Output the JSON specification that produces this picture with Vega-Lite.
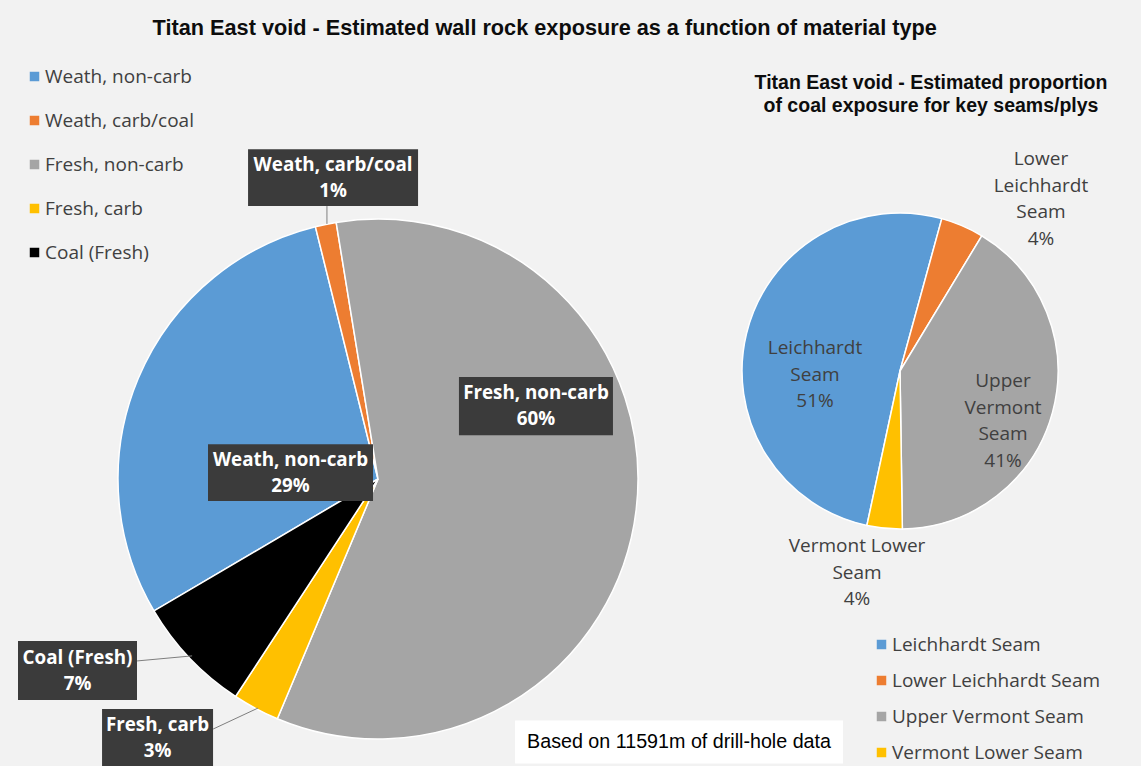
{
  "$schema": "https://vega.github.io/schema/vega-lite/v6.json",
  "background": "#f2f2f2",
  "padding": {"left": 18, "top": 18, "right": 60, "bottom": 20},
  "title": {
    "text": "Titan East void - Estimated wall rock exposure as a function of material type",
    "anchor": "middle", "offset": 27, "dx": -18,
    "font": "Liberation Sans", "fontSize": 21.7, "fontWeight": "bold", "color": "#0d0d0d"
  },
  "bounds": "flush",
  "spacing": 5,
  "resolve": {
    "scale": {"color": "independent", "theta": "independent", "x": "independent", "y": "independent"},
    "legend": {"color": "independent"}
  },
  "config": {"view": {"stroke": null}},
  "hconcat": [
    {
      "width": 718,
      "height": 532,
      "data": {"values": [
        {"name": "Weath, non-carb", "value": 29.6, "label": "Weath, non-carb\n29%"},
        {"name": "Weath, carb/coal", "value": 1.3, "label": "Weath, carb/coal\n1%"},
        {"name": "Fresh, non-carb", "value": 58.9, "label": "Fresh, non-carb\n60%"},
        {"name": "Fresh, carb", "value": 2.9, "label": "Fresh, carb\n3%"},
        {"name": "Coal (Fresh)", "value": 7.3, "label": "Coal (Fresh)\n7%"}
      ]},
      "layer": [
        {
          "transform": [{"window": [{"op": "row_number", "as": "k"}]}],
          "mark": {"type": "arc", "radius": 260, "stroke": "#ffffff", "strokeWidth": 1.5},
          "encoding": {
            "x": {"datum": 0, "type": "quantitative", "scale": {"domain": [-1.35, 1.35], "nice": false, "zero": false}, "axis": null},
            "y": {"datum": 0, "type": "quantitative", "scale": {"domain": [-1, 1], "nice": false, "zero": false}, "axis": null},
            "theta": {"field": "value", "type": "quantitative", "stack": true, "scale": {"range": [4.1801, 10.4633]}},
            "order": {"field": "k", "type": "quantitative"},
            "color": {
              "field": "name", "type": "nominal",
              "scale": {"domain": ["Weath, non-carb", "Weath, carb/coal", "Fresh, non-carb", "Fresh, carb", "Coal (Fresh)"],
                        "range": ["#5b9bd5", "#ed7d31", "#a5a5a5", "#ffc000", "#000000"]},
              "legend": {"orient": "none", "legendX": 6, "legendY": -146, "title": null, "symbolType": "square", "symbolSize": 90,
                         "symbolStrokeWidth": 0, "labelFont": "Open Sans", "labelFontSize": 19, "labelColor": "#404040",
                         "rowPadding": 24, "labelOffset": 1, "labelLimit": 400, "padding": 0}
            }
          }
        },
        {
          "transform": [{"filter": {"field": "name", "equal": "Weath, carb/coal"}}],
          "encoding": {"x": {"datum": -0.169, "type": "quantitative"}, "y": {"datum": 1.133, "type": "quantitative"}},
          "layer": [
            {"mark": {"type": "rule", "color": "#7f7f7f", "strokeWidth": 1},
             "encoding": {"x": {"datum": -0.192, "type": "quantitative"}, "y": {"datum": 1.026, "type": "quantitative"}, "x2": {"datum": -0.192}, "y2": {"datum": 0.959}}},
            {"mark": {"type": "point", "shape": "M-1,-0.335H1V0.335H-1Z", "size": 28900, "filled": true, "color": "#3b3b3b", "opacity": 1, "strokeWidth": 0}},
            {"mark": {"type": "text", "lineBreak": "\n", "font": "Open Sans", "fontWeight": "bold", "fontSize": 18.8, "color": "#ffffff", "lineHeight": 26, "dy": -13},
             "encoding": {"text": {"field": "label"}}}
          ]
        },
        {
          "transform": [{"filter": {"field": "name", "equal": "Fresh, non-carb"}}],
          "encoding": {"x": {"datum": 0.594, "type": "quantitative"}, "y": {"datum": 0.274, "type": "quantitative"}},
          "layer": [
            {"mark": {"type": "point", "shape": "M-1,-0.377H1V0.377H-1Z", "size": 23716, "filled": true, "color": "#3b3b3b", "opacity": 1, "strokeWidth": 0}},
            {"mark": {"type": "text", "lineBreak": "\n", "font": "Open Sans", "fontWeight": "bold", "fontSize": 18.8, "color": "#ffffff", "lineHeight": 26, "dy": -13},
             "encoding": {"text": {"field": "label"}}}
          ]
        },
        {
          "transform": [{"filter": {"field": "name", "equal": "Weath, non-carb"}}],
          "encoding": {"x": {"datum": -0.329, "type": "quantitative"}, "y": {"datum": 0.024, "type": "quantitative"}},
          "layer": [
            {"mark": {"type": "point", "shape": "M-1,-0.345H1V0.345H-1Z", "size": 27225, "filled": true, "color": "#3b3b3b", "opacity": 1, "strokeWidth": 0}},
            {"mark": {"type": "text", "lineBreak": "\n", "font": "Open Sans", "fontWeight": "bold", "fontSize": 18.8, "color": "#ffffff", "lineHeight": 26, "dy": -13},
             "encoding": {"text": {"field": "label"}}}
          ]
        },
        {
          "transform": [{"filter": {"field": "name", "equal": "Coal (Fresh)"}}],
          "encoding": {"x": {"datum": -1.13, "type": "quantitative"}, "y": {"datum": -0.72, "type": "quantitative"}},
          "layer": [
            {"mark": {"type": "rule", "color": "#7f7f7f", "strokeWidth": 1},
             "encoding": {"x": {"datum": -0.906, "type": "quantitative"}, "y": {"datum": -0.684, "type": "quantitative"}, "x2": {"datum": -0.699}, "y2": {"datum": -0.665}}},
            {"mark": {"type": "point", "shape": "M-1,-0.496H1V0.496H-1Z", "size": 14161, "filled": true, "color": "#3b3b3b", "opacity": 1, "strokeWidth": 0}},
            {"mark": {"type": "text", "lineBreak": "\n", "font": "Open Sans", "fontWeight": "bold", "fontSize": 18.8, "color": "#ffffff", "lineHeight": 26, "dy": -13},
             "encoding": {"text": {"field": "label"}}}
          ]
        },
        {
          "transform": [{"filter": {"field": "name", "equal": "Fresh, carb"}}],
          "encoding": {"x": {"datum": -0.829, "type": "quantitative"}, "y": {"datum": -0.974, "type": "quantitative"}},
          "layer": [
            {"mark": {"type": "rule", "color": "#7f7f7f", "strokeWidth": 1},
             "encoding": {"x": {"datum": -0.62, "type": "quantitative"}, "y": {"datum": -0.94, "type": "quantitative"}, "x2": {"datum": -0.451}, "y2": {"datum": -0.861}}},
            {"mark": {"type": "point", "shape": "M-1,-0.523H1V0.523H-1Z", "size": 12321, "filled": true, "color": "#3b3b3b", "opacity": 1, "strokeWidth": 0}},
            {"mark": {"type": "text", "lineBreak": "\n", "font": "Open Sans", "fontWeight": "bold", "fontSize": 18.8, "color": "#ffffff", "lineHeight": 26, "dy": -13},
             "encoding": {"text": {"field": "label"}}}
          ]
        },
        {
          "data": {"values": [{"note": "Based on 11591m of drill-hole data"}]},
          "encoding": {"x": {"datum": 1.132, "type": "quantitative"}, "y": {"datum": -0.989, "type": "quantitative"}},
          "layer": [
            {"mark": {"type": "point", "shape": "M-1,-0.131H1V0.131H-1Z", "size": 107584, "filled": true, "color": "#ffffff", "opacity": 1, "strokeWidth": 0}},
            {"mark": {"type": "text", "font": "Liberation Sans", "fontSize": 19.7, "color": "#000000"},
             "encoding": {"text": {"field": "note"}}}
          ]
        }
      ]
    },
    {
      "width": 316,
      "height": 316,
      "title": {
        "text": ["Titan East void - Estimated proportion", "of coal exposure for key seams/plys"],
        "anchor": "middle", "offset": 34, "dx": 31,
        "font": "Liberation Sans", "fontSize": 19.5, "fontWeight": "bold", "color": "#0d0d0d", "lineHeight": 23
      },
      "data": {"values": [
        {"name": "Leichhardt Seam", "value": 50.9, "label": "Leichhardt\nSeam\n51%"},
        {"name": "Lower Leichhardt Seam", "value": 4.4, "label": "Lower\nLeichhardt\nSeam\n4%"},
        {"name": "Upper Vermont Seam", "value": 41.1, "label": "Upper\nVermont\nSeam\n41%"},
        {"name": "Vermont Lower Seam", "value": 3.6, "label": "Vermont Lower\nSeam\n4%"}
      ]},
      "layer": [
        {
          "transform": [{"window": [{"op": "row_number", "as": "k"}]}],
          "mark": {"type": "arc", "radius": 158, "stroke": "#ffffff", "strokeWidth": 1.5},
          "encoding": {
            "x": {"datum": 0, "type": "quantitative", "scale": {"domain": [-1, 1], "nice": false, "zero": false}, "axis": null},
            "y": {"datum": 0, "type": "quantitative", "scale": {"domain": [-1, 1], "nice": false, "zero": false}, "axis": null},
            "theta": {"field": "value", "type": "quantitative", "stack": true, "scale": {"range": [3.3528, 9.636]}},
            "order": {"field": "k", "type": "quantitative"},
            "color": {
              "field": "name", "type": "nominal",
              "scale": {"domain": ["Leichhardt Seam", "Lower Leichhardt Seam", "Upper Vermont Seam", "Vermont Lower Seam"],
                        "range": ["#5b9bd5", "#ed7d31", "#a5a5a5", "#ffc000"]},
              "legend": {"orient": "none", "legendX": 130, "legendY": 422, "title": null, "symbolType": "square", "symbolSize": 90,
                         "symbolStrokeWidth": 0, "labelFont": "Open Sans", "labelFontSize": 19, "labelColor": "#404040",
                         "rowPadding": 16, "labelOffset": 1, "labelLimit": 400, "padding": 0}
            }
          }
        },
        {
          "transform": [{"filter": {"field": "name", "equal": "Lower Leichhardt Seam"}}],
          "mark": {"type": "text", "lineBreak": "\n", "font": "Open Sans", "fontSize": 19, "color": "#404040", "lineHeight": 26.5, "dy": -39.75},
          "encoding": {"x": {"datum": 0.892, "type": "quantitative"}, "y": {"datum": 1.089, "type": "quantitative"}, "text": {"field": "label"}}
        },
        {
          "transform": [{"filter": {"field": "name", "equal": "Leichhardt Seam"}}],
          "mark": {"type": "text", "lineBreak": "\n", "font": "Open Sans", "fontSize": 19, "color": "#404040", "lineHeight": 26.5, "dy": -26.5},
          "encoding": {"x": {"datum": -0.538, "type": "quantitative"}, "y": {"datum": -0.025, "type": "quantitative"}, "text": {"field": "label"}}
        },
        {
          "transform": [{"filter": {"field": "name", "equal": "Upper Vermont Seam"}}],
          "mark": {"type": "text", "lineBreak": "\n", "font": "Open Sans", "fontSize": 19, "color": "#404040", "lineHeight": 26.5, "dy": -39.75},
          "encoding": {"x": {"datum": 0.652, "type": "quantitative"}, "y": {"datum": -0.316, "type": "quantitative"}, "text": {"field": "label"}}
        },
        {
          "transform": [{"filter": {"field": "name", "equal": "Vermont Lower Seam"}}],
          "mark": {"type": "text", "lineBreak": "\n", "font": "Open Sans", "fontSize": 19, "color": "#404040", "lineHeight": 26.5, "dy": -26.5},
          "encoding": {"x": {"datum": -0.272, "type": "quantitative"}, "y": {"datum": -1.278, "type": "quantitative"}, "text": {"field": "label"}}
        }
      ]
    }
  ]
}
